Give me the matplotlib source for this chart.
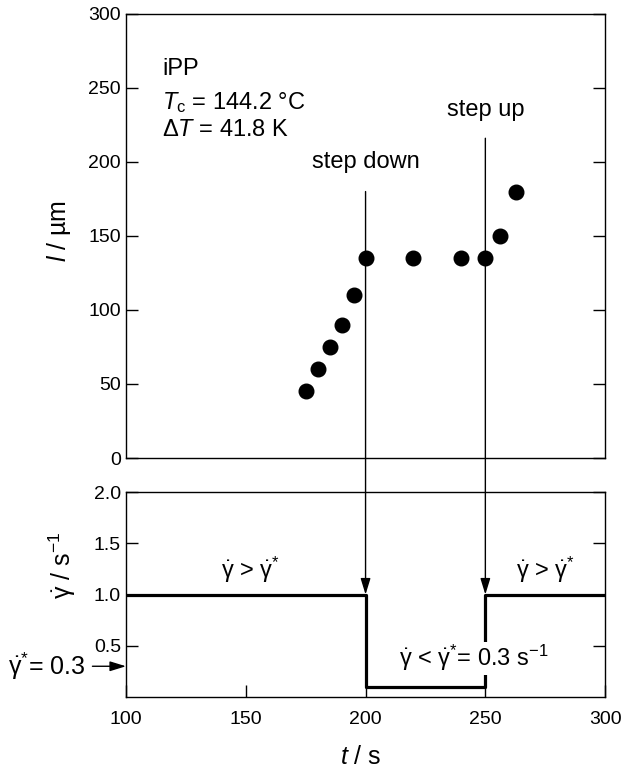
import matplotlib
matplotlib.use("Agg")
import matplotlib.pyplot as plt

plt.rcParams['font.family'] = ['Liberation Sans', 'DejaVu Sans']
plt.rcParams['mathtext.fontset'] = 'custom'
plt.rcParams['mathtext.rm'] = 'Liberation Sans'
plt.rcParams['mathtext.it'] = 'Liberation Sans:italic'
plt.rcParams['mathtext.bf'] = 'Liberation Sans:bold'

# lamella length vs time
t_pts = [175, 180, 185, 190, 195, 200, 220, 240, 250, 256, 263]
l_pts = [45, 60, 75, 90, 110, 135, 135, 135, 135, 150, 180]

# shear rate history (post steps)
t_steps = [100, 200, 250, 300]
rate_steps = [1.0, 0.1, 1.0, 1.0]

t_down, t_up = 200, 250
rate_crit = 0.3

fig = plt.figure(figsize=(6.33, 7.73), dpi=100)
ax1 = fig.add_axes([0.199, 0.4075, 0.757, 0.5745])
ax2 = fig.add_axes([0.199, 0.0983, 0.757, 0.2652])

for ax in (ax1, ax2):
    for s in ax.spines.values():
        s.set_linewidth(1.0)
    ax.tick_params(direction='in', length=8.5, width=1.0, labelsize=14,
                   left=True, right=True, top=False, bottom=True)
    ax.set_xlim(100, 300)

# upper panel
ax1.plot(t_pts, l_pts, 'o', color='black', markersize=10.5)
ax1.set_ylim(0, 300)
ax1.set_yticks([0, 50, 100, 150, 200, 250, 300])
ax1.tick_params(axis='x', bottom=False, labelbottom=False)
ax1.set_ylabel(r'$l$ / µm', fontsize=18)
ax1.yaxis.set_label_coords(-0.11, 0.51)

ax1.text(115, 263, 'iPP', fontsize=17, va='center', ha='left')
ax1.text(115, 240, r'$T_{\mathrm{c}}$ = 144.2 °C', fontsize=17, va='center', ha='left')
ax1.text(115, 221.5, r'$\Delta T$ = 41.8 K', fontsize=17, va='center', ha='left')
ax1.text(t_down, 200, 'step down', fontsize=17, ha='center', va='center')
ax1.text(t_up, 235, 'step up', fontsize=17, ha='center', va='center')

# lower panel
ax2.step(t_steps, rate_steps, where='post', color='black', linewidth=2.3)
ax2.set_ylim(0, 2.0)
ax2.set_yticks([0.5, 1.0, 1.5, 2.0])
ax2.set_yticklabels(['0.5', '1.0', '1.5', '2.0'])
ax2.set_xticks([100, 150, 200, 250, 300])
ax2.tick_params(axis='x', pad=10)
ax2.set_xlabel(r'$t$ / s', fontsize=18)
ax2.xaxis.set_label_coords(0.49, -0.235)
ax2.set_ylabel(r'$\dot{\mathrm{\gamma}}$ / s$^{-1}$', fontsize=18)
ax2.yaxis.set_label_coords(-0.10, 0.64)

gd = r'$\dot{\mathrm{\gamma}}$'
gs = r'$\dot{\mathrm{\gamma}}^{*}$'
ax2.text(152, 1.24, gd + ' > ' + gs, fontsize=17, ha='center', va='center')
ax2.text(275, 1.24, gd + ' > ' + gs, fontsize=17, ha='center', va='center')
ax2.text(245, 0.38, gd + ' < ' + gs + '= 0.3 s$^{-1}$', fontsize=17,
         ha='center', va='center',
         bbox=dict(facecolor='white', edgecolor='none', pad=1))
ax2.text(83, rate_crit, gs + '= 0.3', fontsize=18, ha='right', va='center')

head = dict(arrowstyle='-|>,head_length=0.65,head_width=0.2', color='black',
            lw=1.0, shrinkA=0, shrinkB=0, mutation_scale=15)
ax2.annotate('', xy=(100, rate_crit), xytext=(86, rate_crit),
             arrowprops=head, annotation_clip=False)
ax2.annotate('', xy=(t_down, 1.0), xytext=(t_down, 180),
             textcoords=ax1.transData, arrowprops=head, annotation_clip=False)
ax2.annotate('', xy=(t_up, 1.0), xytext=(t_up, 216),
             textcoords=ax1.transData, arrowprops=head, annotation_clip=False)

fig.savefig('out.png', dpi=100)
